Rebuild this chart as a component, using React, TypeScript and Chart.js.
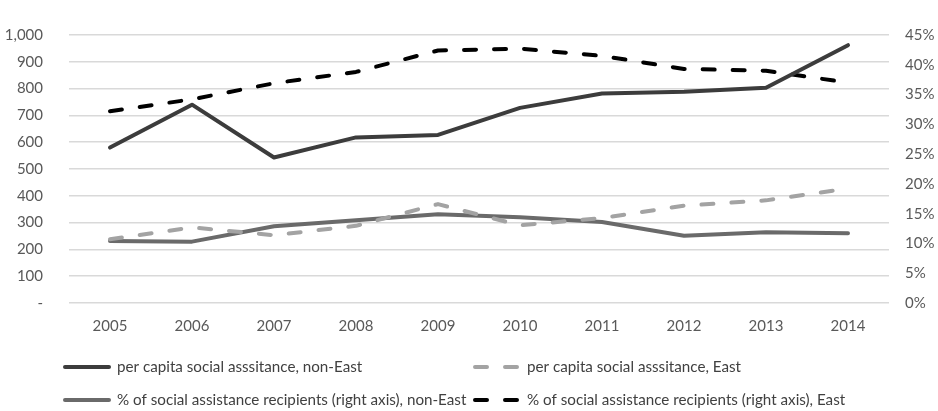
import React, { useEffect, useRef } from "react";
import { Chart, registerables } from "chart.js";

Chart.register(...registerables);

const years = ["2005", "2006", "2007", "2008", "2009", "2010", "2011", "2012", "2013", "2014"];
const perCapitaNonEast = [580, 740, 543, 618, 627, 728, 782, 788, 803, 962];
const perCapitaEast = [238, 282, 253, 288, 369, 290, 317, 363, 383, 427];
const recipientsNonEast = [10.4, 10.3, 12.9, 13.9, 14.9, 14.4, 13.6, 11.3, 11.9, 11.7];
const recipientsEast = [32.2, 34.2, 36.9, 38.8, 42.4, 42.7, 41.5, 39.3, 39.0, 37.0];

const seriesLabels = [
  "per capita social asssitance, non-East",
  "per capita social asssitance, East",
  "% of social assistance recipients (right axis), non-East",
  "% of social assistance recipients (right axis), East",
];

const FONT = "Lato, 'Open Sans', sans-serif";

const legendPlugin = {
  id: "customLegend",
  afterDraw(chart: any) {
    const ctx = chart.ctx;
    const cols = [63, 473];
    const rows = [367, 400];
    const order = [
      [0, 0],
      [1, 0],
      [0, 1],
      [1, 1],
    ];
    chart.data.datasets.forEach((ds: any, i: number) => {
      const [c, r] = order[i];
      const x = cols[c];
      const y = rows[r];
      ctx.save();
      ctx.strokeStyle = ds.borderColor;
      ctx.lineWidth = ds.borderWidth;
      ctx.lineCap = "round";
      if (ds.borderDash && ds.borderDash.length) ctx.setLineDash(ds.borderDash);
      ctx.beginPath();
      ctx.moveTo(x + 2, y);
      ctx.lineTo(x + 46, y);
      ctx.stroke();
      ctx.setLineDash([]);
      ctx.fillStyle = "#404040";
      ctx.font = "15.2px " + FONT;
      ctx.textBaseline = "middle";
      ctx.textAlign = "left";
      ctx.fillText(ds.label, x + 54, y);
      ctx.restore();
    });
  },
};

export default function App() {
  const ref = useRef<HTMLCanvasElement>(null);
  useEffect(() => {
    if (!ref.current) return;
    const chart = new Chart(ref.current, {
      type: "line",
      data: {
        labels: years,
        datasets: [
          {
            label: seriesLabels[0],
            data: perCapitaNonEast,
            borderColor: "#3c3c3c",
            borderWidth: 4,
            pointRadius: 0,
            yAxisID: "y",
            borderJoinStyle: "round",
            borderCapStyle: "round",
          },
          {
            label: seriesLabels[1],
            data: perCapitaEast,
            borderColor: "#a3a3a3",
            borderWidth: 4,
            borderDash: [12, 18],
            pointRadius: 0,
            yAxisID: "y",
            borderJoinStyle: "round",
            borderCapStyle: "round",
          },
          {
            label: seriesLabels[2],
            data: recipientsNonEast,
            borderColor: "#6a6a6a",
            borderWidth: 4,
            pointRadius: 0,
            yAxisID: "y1",
            borderJoinStyle: "round",
            borderCapStyle: "round",
          },
          {
            label: seriesLabels[3],
            data: recipientsEast,
            borderColor: "#000000",
            borderWidth: 4,
            borderDash: [12, 18],
            pointRadius: 0,
            yAxisID: "y1",
            borderJoinStyle: "round",
            borderCapStyle: "round",
          },
        ],
      },
      options: {
        animation: false,
        responsive: true,
        maintainAspectRatio: false,
        layout: { padding: { top: 15, left: 0, right: 0, bottom: 0 } },
        plugins: {
          legend: { display: false },
          tooltip: { enabled: false },
        },
        scales: {
          x: {
            offset: true,
            grid: { display: false, drawTicks: false },
            border: { display: false },
            ticks: { color: "#595959", font: { family: FONT, size: 15 }, padding: 14, maxRotation: 0 },
            afterFit: (s: any) => {
              s.height = 108;
            },
          },
          y: {
            position: "left",
            min: 0,
            max: 1000,
            ticks: {
              stepSize: 100,
              color: "#595959",
              font: { family: FONT, size: 15 },
              padding: 26,
              callback: (v: any) => (v === 0 ? "-" : Number(v).toLocaleString("en-US")),
            },
            grid: { color: "#d9d9d9", lineWidth: 1.5, drawTicks: false },
            border: { display: false },
            afterFit: (s: any) => {
              s.width = 69;
            },
          },
          y1: {
            position: "right",
            min: 0,
            max: 45,
            ticks: {
              stepSize: 5,
              color: "#595959",
              font: { family: FONT, size: 15 },
              padding: 16,
              callback: (v: any) => v + "%",
            },
            grid: { display: false, drawTicks: false },
            border: { display: false },
            afterFit: (s: any) => {
              s.width = 49;
            },
          },
        },
      },
      plugins: [legendPlugin],
    });
    return () => chart.destroy();
  }, []);
  return (
    <div style={{ position: "fixed", left: 0, top: 0, width: 938, height: 411, background: "#fff" }}>
      <canvas ref={ref} />
    </div>
  );
}
